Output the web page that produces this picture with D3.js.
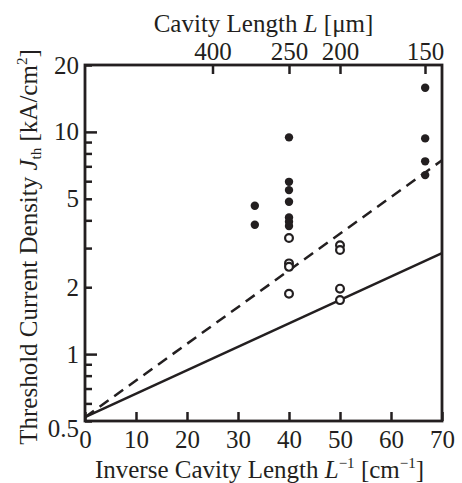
<!DOCTYPE html>
<html>
<head>
<meta charset="utf-8">
<script src="https://cdn.jsdelivr.net/npm/d3@7"></script>
<style>
  body { margin: 0; background: #fff; }
</style>
</head>
<body>
<div id="d3-container"></div>
<script>
// Data
const inverseLength = [33.3, 33.3, 40, 40, 40, 40, 40, 40, 40, 66.7, 66.7, 66.7, 66.7];
const filledJ = [4.65, 3.82, 9.45, 5.96, 5.47, 4.85, 4.12, 3.94, 3.77, 15.8, 9.35, 7.37, 6.39];

const openX = [40, 40, 40, 40, 50, 50, 50, 50];
const openJ = [3.33, 2.56, 2.47, 1.87, 3.09, 2.94, 1.97, 1.75];

const lineX = [0, 70];
const dashedJ = [0.52, 7.45];
const solidJ = [0.52, 2.85];

const xTicks = [0, 10, 20, 30, 40, 50, 60, 70];
const cavityLengths = [400, 250, 200, 150];
const yTicks = [0.5, 0.6, 0.7, 0.8, 0.9, 1, 2, 3, 4, 5, 6, 7, 8, 9, 10, 20];
const yLabels = [0.5, 1, 2, 5, 10, 20];
const yMajor = [1, 10];

// Chart dimensions
const width = 462;
const height = 483;
const margin = { top: 65, right: 20, bottom: 62, left: 85 };
const ink = "#231f20";
const serif = '"Liberation Serif", monospace';

const svg = d3
  .select("#d3-container")
  .append("svg")
  .attr("width", width)
  .attr("height", height);

// Scales
const xScale = d3
  .scaleLinear()
  .domain([0, 70])
  .range([margin.left, width - margin.right]);

const yScale = d3
  .scaleLog()
  .domain([0.5, 20])
  .range([height - margin.bottom, margin.top]);

// Bottom axis, ticks pointing inwards
svg
  .append("g")
  .attr("class", "axis")
  .attr("transform", `translate(0, ${height - margin.bottom})`)
  .call(d3.axisBottom(xScale).tickValues(xTicks).tickSize(-9).tickPadding(9).tickSizeOuter(0));

// Top axis: cavity length in um -> 1/L in cm^-1
svg
  .append("g")
  .attr("class", "axis")
  .attr("transform", `translate(0, ${margin.top})`)
  .call(
    d3.axisTop(xScale)
      .tickValues(cavityLengths.map((L) => 1e4 / L))
      .tickFormat((d, i) => cavityLengths[i])
      .tickSize(-9)
      .tickPadding(5)
      .tickSizeOuter(0)
  );

// Left axis (log)
const yAxis = svg
  .append("g")
  .attr("class", "axis")
  .attr("transform", `translate(${margin.left}, 0)`)
  .call(
    d3.axisLeft(yScale)
      .tickValues(yTicks)
      .tickFormat((d) => (yLabels.includes(d) ? d : ""))
      .tickSize(-7)
      .tickPadding(6)
      .tickSizeOuter(0)
  );
yAxis.selectAll(".tick line")
  .attr("x2", (d) => (yMajor.includes(d) ? 12 : 7));
yAxis.selectAll(".tick text")
  .filter((d) => d === 0.5)
  .attr("dy", "0.62em");

svg.selectAll(".axis").attr("font-family", null).attr("font-size", null);
svg.selectAll(".axis text")
  .attr("font-family", serif)
  .attr("font-size", 25)
  .attr("fill", ink);
svg.selectAll(".axis path").attr("stroke-width", 0);
svg.selectAll(".axis line").attr("stroke", ink).attr("stroke-width", 2.5);

// Frame
svg
  .append("rect")
  .attr("x", xScale(0))
  .attr("y", yScale(20))
  .attr("width", xScale(70) - xScale(0))
  .attr("height", yScale(0.5) - yScale(20))
  .attr("fill", "none")
  .attr("stroke", ink)
  .attr("stroke-width", 2.8);

// Fit lines
const line = d3
  .line()
  .x((d) => xScale(d[0]))
  .y((d) => yScale(d[1]));

svg
  .append("path")
  .datum(lineX.map((x, i) => [x, dashedJ[i]]))
  .attr("d", line)
  .attr("fill", "none")
  .attr("stroke", ink)
  .attr("stroke-width", 2.5)
  .attr("stroke-dasharray", "11,7");

svg
  .append("path")
  .datum(lineX.map((x, i) => [x, solidJ[i]]))
  .attr("d", line)
  .attr("fill", "none")
  .attr("stroke", ink)
  .attr("stroke-width", 2.5);

// Open circles
svg
  .selectAll(".open")
  .data(openX.map((x, i) => ({ x, j: openJ[i] })))
  .enter()
  .append("circle")
  .attr("class", "open")
  .attr("cx", (d) => xScale(d.x))
  .attr("cy", (d) => yScale(d.j))
  .attr("r", 3.9)
  .attr("fill", "#fff")
  .attr("stroke", ink)
  .attr("stroke-width", 2.2);

// Filled circles
svg
  .selectAll(".filled")
  .data(inverseLength.map((x, i) => ({ x, j: filledJ[i] })))
  .enter()
  .append("circle")
  .attr("class", "filled")
  .attr("cx", (d) => xScale(d.x))
  .attr("cy", (d) => yScale(d.j))
  .attr("r", 4.2)
  .attr("fill", ink);

// Axis titles
function title(x, y, rotate) {
  return svg
    .append("text")
    .attr("transform", `translate(${x}, ${y})` + (rotate ? " rotate(-90)" : ""))
    .attr("text-anchor", "middle")
    .attr("fill", ink)
    .attr("font-family", serif)
    .attr("font-size", 25);
}
function span(t, str, opts = {}) {
  return t.append("tspan")
    .attr("font-family", serif)
    .attr("dy", opts.dy || null)
    .attr("font-size", opts.size || null)
    .attr("font-style", opts.italic ? "italic" : null)
    .text(str);
}

const bottomTitle = title((xScale(0) + xScale(70)) / 2 - 4, 478, false);
span(bottomTitle, "Inverse Cavity Length ");
span(bottomTitle, "L", { italic: true });
span(bottomTitle, "\u22121", { dy: -10, size: 15 });
span(bottomTitle, " [cm", { dy: 10 });
span(bottomTitle, "\u22121", { dy: -10, size: 15 });
span(bottomTitle, "]", { dy: 10 });

const topTitle = title((xScale(0) + xScale(70)) / 2, 32, false);
span(topTitle, "Cavity Length ");
span(topTitle, "L", { italic: true });
span(topTitle, " [\u03bcm]");

const leftTitle = title(37, (yScale(0.5) + yScale(20)) / 2 + 4, true);
span(leftTitle, "Threshold Current Density ");
span(leftTitle, "J", { italic: true });
span(leftTitle, "th", { dy: 4, size: 15 });
span(leftTitle, " [kA/cm", { dy: -4 });
span(leftTitle, "2", { dy: -10, size: 15 });
span(leftTitle, "]", { dy: 10 });
</script>
</body>
</html>
